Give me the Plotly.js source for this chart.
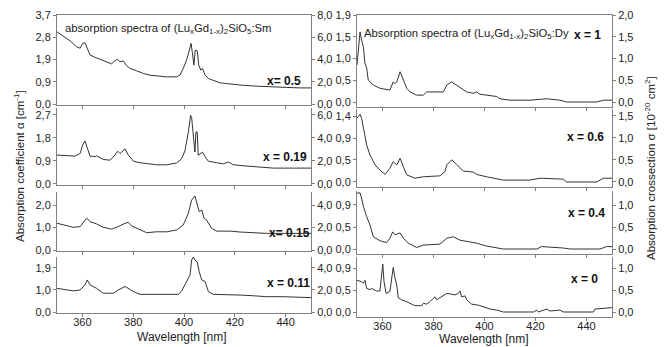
<!DOCTYPE html>
<html><head><meta charset="utf-8">
<script src="https://cdn.plot.ly/plotly-3.0.1.min.js"></script>
<style>html,body{margin:0;padding:0;background:#fff}#c{width:670px;height:347px}</style>
</head><body><div id="c"></div><script>
// ---------- DATA ----------
// Sm-doped series (left column), wavelength [nm] and absorption coefficient [cm^-1]
const smWl05 = [350,352.5,355.1,357.7,359.1,360.1,361.0,361.9,363.0,365.0,366.9,369.6,371.5,372.8,373.8,374.8,376.1,377.2,378.7,381.4,384.0,386.6,389.2,393.2,397.1,398.4,399.7,401.0,402.1,402.8,403.4,403.9,404.4,405.2,405.8,406.6,407.3,408.3,409.6,411.5,414.2,416.8,419.4,422.1,427.3,432.5,436.5,440.4,445.7,450];
const smA05  = [3.00,2.82,2.63,2.38,2.32,2.52,2.55,2.32,2.04,1.94,1.86,1.76,1.67,1.80,1.86,1.76,1.79,1.62,1.48,1.38,1.27,1.20,1.16,1.13,1.13,1.20,1.48,1.82,2.24,2.52,2.04,1.62,2.24,2.21,1.62,1.41,1.48,1.20,1.06,0.99,0.88,0.85,0.81,0.79,0.75,0.72,0.69,0.69,0.67,0.67];
const smWl019 = [350,353.8,357.1,359.1,360.1,361.0,361.9,363.0,365.0,365.6,368.2,370.9,372.8,373.9,374.8,376.8,378.1,380.1,382.7,385.3,389.2,393.2,397.1,399.1,400.4,401.7,402.6,403.0,403.7,404.3,404.7,405.2,405.6,406.6,407.3,408.3,409.6,412.9,415.5,417.5,419.4,424.7,429.9,435.2,443.0,450];
const smA019  = [1.13,1.10,1.09,1.19,1.52,1.68,1.39,1.09,1.07,1.10,0.96,0.93,1.13,1.28,1.19,1.37,1.13,0.89,0.83,0.79,0.75,0.75,0.82,0.99,1.31,2.03,2.68,2.60,1.77,1.25,2.03,2.03,1.12,1.19,1.25,1.06,0.89,0.83,0.79,0.86,0.75,0.70,0.66,0.62,0.62,0.62];
const smWl015 = [350,352.5,356.4,359.1,361.0,361.9,363.0,365.6,368.2,371.5,374.1,376.8,378.1,379.4,382.7,385.3,389.2,393.2,397.1,399.7,401.7,403.0,404.3,405.2,406.0,407.0,407.9,408.9,410.9,412.9,418.1,422.1,427.3,432.5,439.1,450];
const smA015  = [1.19,1.11,1.01,1.04,1.33,1.41,1.26,1.16,1.01,0.93,1.04,1.19,1.23,1.07,0.89,0.77,0.81,0.81,0.89,1.11,1.63,2.22,2.40,2.07,1.70,1.78,1.41,1.33,0.96,0.84,0.84,0.80,0.77,0.74,0.74,0.74];
const smWl011 = [350,356.4,359.1,361.0,361.9,363.0,365.6,368.2,372.2,374.1,376.8,378.1,380.1,382.7,390.6,397.8,399.1,401.0,402.4,403.0,403.7,404.3,405.2,406.0,407.0,408.3,409.6,411.5,416.8,422.1,427.3,432.5,439.1,450];
const smA011  = [1.02,0.91,0.95,1.17,1.38,1.17,1.02,0.81,0.81,0.95,1.10,1.02,0.88,0.76,0.76,0.76,0.91,1.31,1.60,2.24,2.38,2.24,2.16,1.73,1.38,1.31,0.88,0.76,0.76,0.73,0.70,0.66,0.66,0.62];

// Dy-doped series (right column)
const dyWl1 = [350,351.2,351.8,352.5,353.1,353.8,354.4,356.4,359.0,362.9,364.2,364.9,365.6,366.9,368.2,369.5,370.8,373.4,376.0,377.3,383.9,384.9,385.2,387.1,389.1,391.0,393.0,395.6,396.9,398.2,404.8,406.1,410.0,417.8,424.4,429.6,432.2,444.0,446.6,450];
const dyA1  = [0.81,1.53,1.35,1.21,0.85,0.74,0.48,0.37,0.30,0.26,0.44,0.40,0.44,0.66,0.48,0.30,0.22,0.15,0.15,0.22,0.22,0.33,0.37,0.44,0.37,0.30,0.22,0.19,0.22,0.17,0.12,0.07,0.04,0.04,0.07,0.04,0.0,0.0,0.04,0.04];
const dyWl06 = [350,351.2,351.8,352.5,353.8,355.1,357.1,359.0,361.0,362.9,364.2,365.6,366.9,368.2,369.5,372.7,376.0,382.5,384.5,385.2,387.1,389.1,391.7,395.6,396.9,400.8,407.4,417.8,421.8,430.9,432.2,444.0,446.6,450];
const dyA06  = [1.35,1.43,1.35,1.13,0.78,0.57,0.36,0.25,0.16,0.29,0.43,0.36,0.50,0.32,0.15,0.08,0.11,0.13,0.22,0.36,0.47,0.37,0.23,0.21,0.16,0.11,0.04,0.04,0.08,0.06,0.0,0.0,0.08,0.08];
const dyWl04 = [350,351.2,351.8,352.5,353.8,355.1,356.4,359.0,361.6,362.9,364.0,364.9,366.9,368.2,370.1,373.4,376.0,382.5,385.2,387.8,390.4,394.3,396.9,400.8,407.4,420.5,422.4,430.9,433.5,445.3,447.9,450];
const dyA04  = [1.14,1.15,1.04,0.87,0.66,0.49,0.25,0.17,0.13,0.22,0.35,0.29,0.33,0.22,0.12,0.03,0.08,0.10,0.22,0.25,0.18,0.15,0.12,0.06,0.0,0.0,0.05,0.02,0.0,0.0,0.05,0.05];
const dyWl0 = [350,351.8,352.5,353.1,353.8,355.1,355.8,357.7,359.0,359.7,360.1,360.6,361.4,362.9,363.6,364.2,364.9,365.6,366.2,367.5,369.5,371.4,372.7,375.4,376.0,377.3,378.6,379.9,380.6,381.2,383.9,385.2,386.5,388.4,389.7,390.4,391.0,392.4,393.0,395.0,397.6,400.2,402.2,404.8,407.4,419.2,420.5,421.1,424.4,425.7,429.6,430.9,442.7,443.3,447.9,450];
const dyA0  = [0.65,0.62,0.59,0.65,0.48,0.46,0.48,0.43,0.43,0.76,0.98,0.62,0.38,0.42,0.76,0.91,0.69,0.55,0.29,0.25,0.21,0.16,0.13,0.13,0.18,0.16,0.21,0.28,0.31,0.25,0.35,0.38,0.37,0.35,0.38,0.43,0.31,0.33,0.25,0.16,0.14,0.10,0.06,0.04,0.0,0.0,0.04,0.0,0.06,0.02,0.04,0.0,0.0,0.06,0.08,0.09];

// Labels
const seriesLabels = ['x= 0.5','x = 0.19','x= 0.15','x = 0.11','x = 1','x = 0.6','x = 0.4','x = 0'];
const xTickVals = [360,380,400,420,440];
const xTickText = ['360','380','400','420','440'];
// left-axis tick values/labels per panel (in plotted units)
const leftTickVals = [[0,0.925,1.85,2.775,3.7],[0,0.9,1.8,2.7],[0,1,2],[0,0.95,1.9],
                      [0,0.475,0.95,1.425,1.9],[0,0.465,0.93,1.395],[0,0.45,0.9],[0,0.45,0.9]];
const leftTickText = [['0,0','0,9','1,9','2,8','3,7'],['0,0','0,9','1,8','2,7'],['0,0','1,0','2,0'],['0,0','1,0','1,9'],
                      ['0,0','0,5','1,0','1,5','1,9'],['0,0','0,5','0,9','1,4'],['0,0','0,5','0,9'],['0,0','0,5','0,9']];
// right-axis tick values/labels
const rightTickVals = [[0,2,4,6,8],[0,2,4,6],[0,2,4],[0,2,4],[0,0.5,1,1.5,2],[0,0.5,1,1.5],[0,0.5,1],[0,0.5,1]];
const rightTickText = [['0,0','2,0','4,0','6,0','8,0'],['0,0','2,0','4,0','6,0'],['0,0','2,0','4,0'],['0,0','2,0','4,0'],
                       ['0,0','0,5','1,0','1,5','2,0'],['0,0','0,5','1,0','1,5'],['0,0','0,5','1,0'],['0,0','0,5','1,0']];

const seriesX = [smWl05, smWl019, smWl015, smWl011, dyWl1, dyWl06, dyWl04, dyWl0];
const seriesY = [smA05, smA019, smA015, smA011, dyA1, dyA06, dyA04, dyA0];

// ---------- LAYOUT ----------
const W = 670, H = 347;
const px = p => p / W, py = p => 1 - p / H;
const colX = [[57, 311], [357, 612]];
const rowsPx = [[15,105],[108,185],[192,251],[257,313],[15,107],[109,187],[191,254],[257,317]];
const leftRange = [[-0.04,3.7],[-0.04,2.97],[-0.044,2.58],[-0.043,2.37],[-0.109,1.9],[-0.106,1.543],[-0.102,1.186],[-0.102,1.125]];
const rightRange = [[-0.087,8.0],[-0.089,6.6],[-0.088,5.16],[-0.091,4.99],[-0.115,2.0],[-0.114,1.659],[-0.113,1.318],[-0.113,1.25]];
const FONT = 'Liberation Sans, Arial, sans-serif';
const tickFont = {family: FONT, size: 11, color: '#222'};
const axCol = '#808080';

const layout = {
  width: W, height: H, margin: {l:0, r:0, t:0, b:0},
  paper_bgcolor: '#fff', plot_bgcolor: 'rgba(0,0,0,0)', showlegend: false,
  font: {family: FONT, size: 11, color: '#222'},
  annotations: []
};
const traces = [];
for (let i = 0; i < 8; i++) {
  const col = i < 4 ? 0 : 1;
  const n = i + 1, rn = i + 9;
  const xk = 'xaxis' + (n === 1 ? '' : n), yk = 'yaxis' + (n === 1 ? '' : n), ryk = 'yaxis' + rn;
  const xid = 'x' + (n === 1 ? '' : n), yid = 'y' + (n === 1 ? '' : n);
  const isBottom = (i === 3 || i === 7), isTop = (i === 0 || i === 4);
  layout[xk] = {
    domain: [px(colX[col][0]), px(colX[col][1])], anchor: yid, range: [350, 450],
    tickvals: xTickVals, ticktext: xTickText, showticklabels: isBottom,
    showline: true, linecolor: axCol, linewidth: 1, mirror: isTop,
    ticks: 'outside', ticklen: 3, tickcolor: axCol, showgrid: false, zeroline: false,
    tickfont: tickFont, ticklabelstandoff: -4
  };
  const dom = [py(rowsPx[i][1]), py(rowsPx[i][0])];
  layout[yk] = {
    domain: dom, anchor: xid, range: leftRange[i], tickvals: leftTickVals[i], ticktext: leftTickText[i],
    showline: true, linecolor: axCol, linewidth: 1, ticks: 'outside', ticklen: 3, tickcolor: axCol,
    showgrid: false, zeroline: false, tickfont: tickFont
  };
  layout[ryk] = {
    domain: dom, anchor: xid, overlaying: yid, side: 'right', range: rightRange[i],
    tickvals: rightTickVals[i], ticktext: rightTickText[i],
    showline: true, linecolor: axCol, linewidth: 1, ticks: 'outside', ticklen: 3, tickcolor: axCol,
    showgrid: false, zeroline: false, tickfont: tickFont
  };
  traces.push({x: seriesX[i], y: seriesY[i], xaxis: xid, yaxis: yid, type: 'scatter', mode: 'lines',
    line: {color: '#333', width: 1}, hoverinfo: 'skip'});
  // empty companion trace so the right-hand axis is rendered
  traces.push({x: [], y: [], xaxis: xid, yaxis: 'y' + rn, type: 'scatter', mode: 'lines', hoverinfo: 'skip'});
}

const labelPos = [[303,81],[309,157],[312,233],[312,283],[603,35],[606,137],[607,213],[600,279]];
seriesLabels.forEach((t, i) => {
  layout.annotations.push({text: '<b>' + t + '</b>', xref: 'paper', yref: 'paper', x: px(labelPos[i][0]), y: py(labelPos[i][1]),
    xanchor: 'right', yanchor: 'middle', showarrow: false, font: {family: FONT, size: 12, color: '#111'}});
});
const ann = (text, x, y, size, opts) => layout.annotations.push(Object.assign({text, xref: 'paper', yref: 'paper', x: px(x), y: py(y),
  showarrow: false, font: {family: FONT, size: size, color: '#222'}}, opts || {}));
ann('absorption spectra of (Lu<sub>x</sub>Gd<sub>1-x</sub>)<sub>2</sub>SiO<sub>5</sub>:Sm', 63, 29, 11.3, {xanchor: 'left', yanchor: 'middle'});
ann('Absorption spectra of (Lu<sub>x</sub>Gd<sub>1-x</sub>)<sub>2</sub>SiO<sub>5</sub>:Dy', 362, 34, 11.3, {xanchor: 'left', yanchor: 'middle'});
ann('Absorption coefficient \u03b1 [cm<sup>-1</sup>]', 19, 166, 11.5, {textangle: -90, xanchor: 'center', yanchor: 'middle'});
ann('Absorption crossection \u03c3 [10<sup>-20</sup> cm<sup>2</sup>]', 650, 168, 11.5, {textangle: -90, xanchor: 'center', yanchor: 'middle'});
ann('Wavelength [nm]', 182, 337, 12, {xanchor: 'center', yanchor: 'middle'});
ann('Wavelength [nm]', 484, 339, 12, {xanchor: 'center', yanchor: 'middle'});

Plotly.newPlot('c', traces, layout, {staticPlot: true, displayModeBar: false});
</script></body></html>
